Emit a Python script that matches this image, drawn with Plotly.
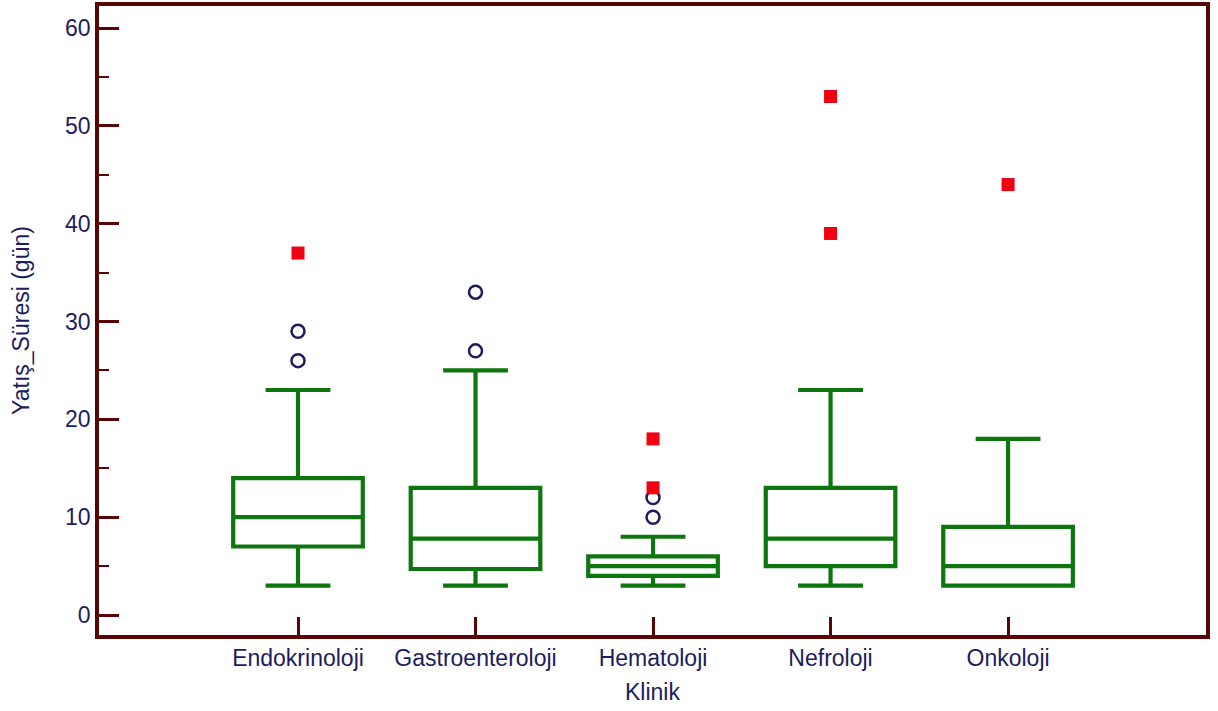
import plotly.graph_objects as go

categories = ["Endokrinoloji", "Gastroenteroloji", "Hematoloji", "Nefroloji", "Onkoloji"]
lower_whisker = [3, 3, 3, 3, 3]
q1 = [7, 4.7, 4, 5, 3]
median = [10, 7.8, 5, 7.8, 5]
q3 = [14, 13, 6, 13, 9]
upper_whisker = [23, 25, 8, 23, 18]

# outliers (category index, value)
mild_cat = [0, 0, 1, 1, 2, 2]
mild_val = [26, 29, 27, 33, 10, 12]
extreme_cat = [0, 2, 2, 3, 3, 4]
extreme_val = [37, 13, 18, 39, 53, 44]

GREEN = "#0e760e"
AXIS = "#5a0505"
NAVY = "#1c1c5e"
RED = "#f00010"

fig = go.Figure()
for i, c in enumerate(categories):
    fig.add_trace(go.Box(
        x=[i], q1=[q1[i]], median=[median[i]], q3=[q3[i]],
        lowerfence=[lower_whisker[i]], upperfence=[upper_whisker[i]],
        name=c, width=0.73, whiskerwidth=0.5,
        boxpoints=False,
        line=dict(color=GREEN, width=4.2),
        fillcolor="rgba(0,0,0,0)",
        showlegend=False,
    ))

fig.add_trace(go.Scatter(
    x=mild_cat, y=mild_val, mode="markers",
    marker=dict(symbol="circle-open", size=13, color=NAVY, line=dict(width=2.5, color=NAVY)),
    showlegend=False,
))
fig.add_trace(go.Scatter(
    x=extreme_cat, y=extreme_val, mode="markers",
    marker=dict(symbol="square", size=13, color=RED, line=dict(width=0)),
    showlegend=False,
))

fig.update_layout(
    width=1218, height=711,
    margin=dict(l=99, r=12, t=6, b=76),
    paper_bgcolor="white", plot_bgcolor="white",
    font=dict(family="Liberation Sans, Arial, sans-serif", size=23, color=NAVY),
    xaxis=dict(
        range=[-1.121, 5.115], automargin=False,
        tickmode="array", tickvals=list(range(len(categories))), ticktext=categories,
        showgrid=False, zeroline=False,
        showline=True, linecolor=AXIS, linewidth=3.5, mirror=True,
        ticks="inside", ticklen=18, tickwidth=3, tickcolor=AXIS,
        title=dict(text="Klinik", standoff=15, font=dict(size=23, color=NAVY)),
        tickfont=dict(size=23, color=NAVY),
    ),
    yaxis=dict(
        range=[-2.044, 62.25], automargin=False,
        tickmode="array", tickvals=[0, 10, 20, 30, 40, 50, 60],
        showgrid=False, zeroline=False,
        showline=True, linecolor=AXIS, linewidth=3.5, mirror=True,
        ticks="inside", ticklen=20, tickwidth=3, tickcolor=AXIS,
        minor=dict(tickvals=[5, 15, 25, 35, 45, 55], ticks="inside", ticklen=10,
                   tickwidth=2, tickcolor=AXIS, showgrid=False),
        title=dict(text="Yatış_Süresi (gün)", standoff=30, font=dict(size=23, color=NAVY)),
        tickfont=dict(size=23, color=NAVY),
    ),
)

fig.write_html("out.html")
